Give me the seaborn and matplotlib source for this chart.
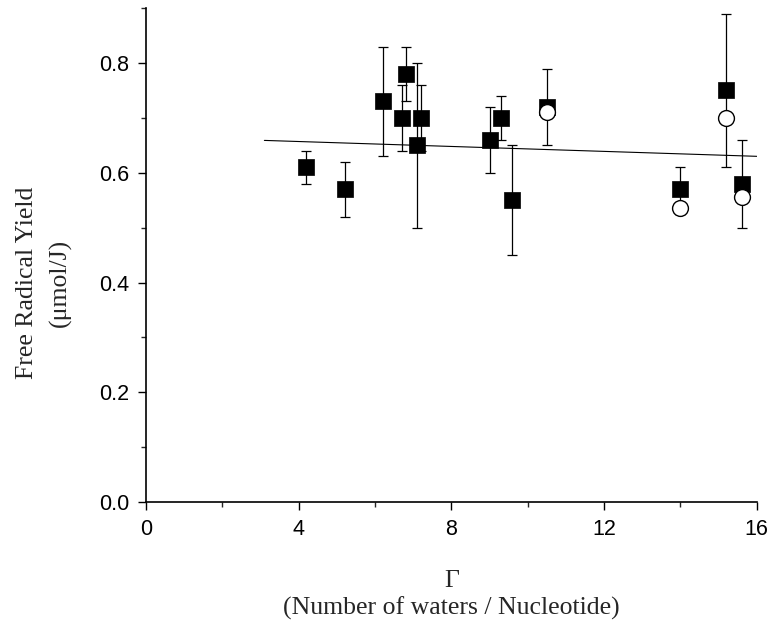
import numpy as np
import pandas as pd
import matplotlib
matplotlib.use("Agg")
import matplotlib.pyplot as plt
from matplotlib.ticker import MultipleLocator
import seaborn as sns

# filled squares: Gamma, yield, error
sq_gamma = [4.2, 5.2, 6.2, 6.7, 6.8, 7.2, 7.1, 9.0, 9.3, 9.6, 10.5, 14.0, 15.2, 15.6]
sq_yield = [0.61, 0.57, 0.73, 0.70, 0.78, 0.70, 0.65, 0.66, 0.70, 0.55, 0.72, 0.57, 0.75, 0.58]
sq_err = [0.03, 0.05, 0.10, 0.06, 0.05, 0.06, 0.15, 0.06, 0.04, 0.10, 0.07, 0.04, 0.14, 0.08]

# open circles
ci_gamma = [10.5, 14.0, 15.2, 15.6]
ci_yield = [0.71, 0.535, 0.70, 0.555]
ci_err = [0.0, 0.01, 0.0, 0.0]

# linear fit line
fit_gamma = [3.1, 16.0]
fit_yield = [0.659, 0.630]

sns.set_style("ticks")
plt.rcParams['font.family'] = ['Liberation Sans', 'DejaVu Sans']

fig = plt.figure(figsize=(7.81, 6.28), dpi=100)
ax = fig.add_axes([0.187, 0.2006, 0.782, 0.7864])

sq = pd.DataFrame({'g': sq_gamma, 'y': sq_yield, 'e': sq_err})
ci = pd.DataFrame({'g': ci_gamma, 'y': ci_yield, 'e': ci_err})
fit = pd.DataFrame({'g': fit_gamma, 'y': fit_yield})

sns.lineplot(data=fit, x='g', y='y', color='black', linewidth=0.8, ax=ax)

ax.errorbar(sq['g'], sq['y'], yerr=sq['e'], fmt='none', ecolor='black',
            elinewidth=0.9, capsize=3.5, capthick=0.9, zorder=2)
ax.errorbar(ci['g'], ci['y'], yerr=ci['e'], fmt='none', ecolor='black',
            elinewidth=0.9, capsize=3.5, capthick=0.9, zorder=2)

sns.scatterplot(data=sq, x='g', y='y', marker='s', s=120, color='black',
                edgecolor='black', linewidth=0.5, ax=ax, zorder=3)
sns.scatterplot(data=ci, x='g', y='y', marker='o', s=130, facecolor='white',
                edgecolor='black', linewidth=1.0, ax=ax, zorder=4)

ax.set_xlim(0, 16)
ax.set_ylim(0, 0.9)
ax.xaxis.set_major_locator(MultipleLocator(4))
ax.xaxis.set_minor_locator(MultipleLocator(2))
ax.yaxis.set_minor_locator(MultipleLocator(0.1))
ax.set_yticks([0.0, 0.2, 0.4, 0.6, 0.8])
ax.set_yticklabels(['0.0', '0.2', '0.4', '0.6', '0.8'])
ax.tick_params(which='major', direction='out', length=6, width=1, pad=6,
               labelsize=15.5, colors='black')
ax.tick_params(which='minor', direction='out', length=3.5, width=1)

sns.despine(ax=ax)
for s in ['left', 'bottom']:
    ax.spines[s].set_linewidth(1.2)
    ax.spines[s].set_color('black')

serif = ['Liberation Serif', 'DejaVu Serif']
ax.set_xlabel('Γ\n(Number of waters / Nucleotide)', family=serif, fontsize=18.5,
              linespacing=1.25)
ax.set_ylabel('Free Radical Yield\n(μmol/J)', family=serif, fontsize=18.5,
              linespacing=1.65)
ax.xaxis.set_label_coords(0.5, -0.138)
ax.yaxis.set_label_coords(-0.121, 0.443)

fig.savefig('out.png', dpi=100)
